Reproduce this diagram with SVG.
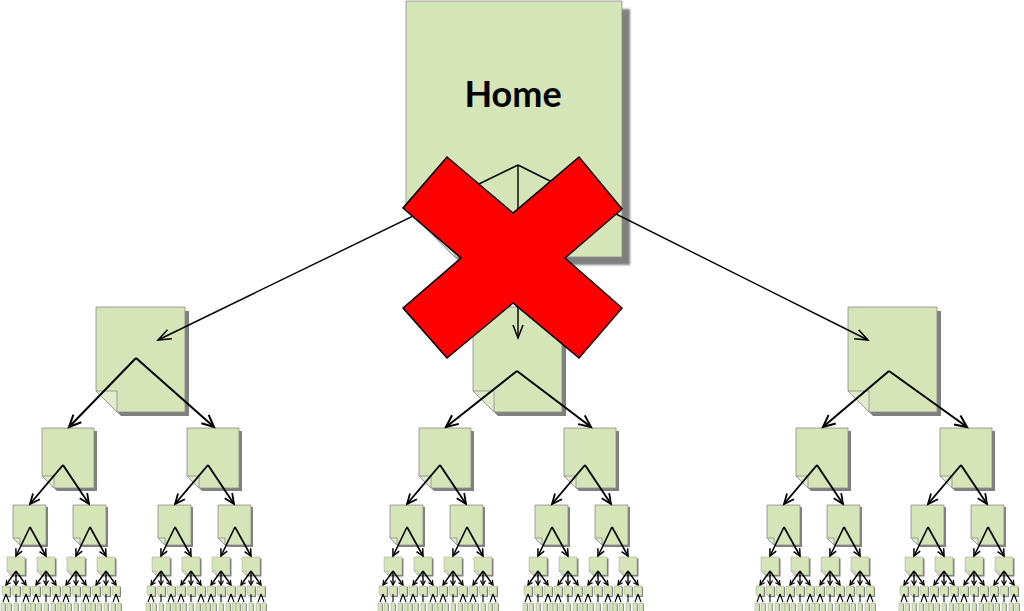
<svg xmlns="http://www.w3.org/2000/svg" xmlns:xlink="http://www.w3.org/1999/xlink" width="1024" height="611" viewBox="0 0 1024 611">
<style>
.body{fill:#d6e5b7;stroke:#8c8c8c;stroke-width:0.8}
.fold{fill:#e1ecca;stroke:#8c8c8c;stroke-width:0.8}
.bs{stroke-width:0.4}
.shadow{fill:#808080}
.c0{fill:none;stroke:#000;stroke-width:1.4;marker-end:url(#a0)}
.c1{fill:none;stroke:#000;stroke-width:2;marker-end:url(#a1)}
.c2{fill:none;stroke:#000;stroke-width:1.9;marker-end:url(#a2)}
.c3{fill:none;stroke:#000;stroke-width:1.6;marker-end:url(#a3)}
.c4{fill:none;stroke:#000;stroke-width:1.4;marker-end:url(#a4)}
.c5{fill:none;stroke:#000;stroke-width:1.1}
.x{fill:#ff0000;stroke:#000;stroke-width:1.5;stroke-linejoin:miter}
.label{font-family:Lato,"Liberation Sans",sans-serif;font-weight:700;font-size:36px;fill:#000}
</style>
<defs>
<filter id="blur" x="-10%" y="-10%" width="120%" height="120%"><feGaussianBlur stdDeviation="1.2"/></filter>
<marker id="a0" markerUnits="userSpaceOnUse" viewBox="0 0 13 10" markerWidth="13" markerHeight="10" refX="13" refY="5" orient="auto" overflow="visible"><path d="M0,0L13,5L0,10" fill="none" stroke="#000" stroke-width="1.5"/></marker>
<marker id="a1" markerUnits="userSpaceOnUse" viewBox="0 0 12 11" markerWidth="12" markerHeight="11" refX="12" refY="5.5" orient="auto" overflow="visible"><path d="M0,0L12,5.5L0,11" fill="none" stroke="#000" stroke-width="2"/></marker>
<marker id="a2" markerUnits="userSpaceOnUse" viewBox="0 0 10 9" markerWidth="10" markerHeight="9" refX="10" refY="4.5" orient="auto" overflow="visible"><path d="M0,0L10,4.5L0,9" fill="none" stroke="#000" stroke-width="1.8"/></marker>
<marker id="a3" markerUnits="userSpaceOnUse" viewBox="0 0 7 7" markerWidth="7" markerHeight="7" refX="7" refY="3.5" orient="auto" overflow="visible"><path d="M0,0L7,3.5L0,7" fill="none" stroke="#000" stroke-width="1.5"/></marker>
<marker id="a4" markerUnits="userSpaceOnUse" viewBox="0 0 4.5 5" markerWidth="4.5" markerHeight="5" refX="4.5" refY="2.5" orient="auto" overflow="visible"><path d="M0,0L4.5,2.5L0,5" fill="none" stroke="#000" stroke-width="1.2"/></marker>
<g id="s1"><path class="shadow" d="M4,4H93V109H25L4,88Z"/><path class="body" d="M0,0H89V105H21L0,84Z"/><path class="fold" d="M0,84H21V105Z"/></g>
<g id="s2"><path class="shadow" d="M3,3H55V63H15L3,51Z"/><path class="body" d="M0,0H52V60H12L0,48Z"/><path class="fold" d="M0,48H12V60Z"/></g>
<g id="s3"><path class="shadow" d="M2,2H35V42H9L2,35Z"/><path class="body" d="M0,0H33V40H7L0,33Z"/><path class="fold" d="M0,33H7V40Z"/></g>
<g id="s4"><path class="shadow" d="M1.5,1.5H19.5V19.5H5.5L1.5,15.5Z"/><path class="body bs" d="M0,0H18V18H4L0,14Z"/><path class="fold bs" d="M0,14H4V18Z"/></g>
<g id="s5"><path class="shadow" d="M1,1H9V11H3L1,9Z"/><path class="body bs" d="M0,0H8V10H2L0,8Z"/></g>
<g id="s6"><rect class="shadow" x="0.8" y="0.8" width="4" height="9"/><rect class="body bs" width="4" height="9"/></g>
<g id="subconn">
<path class="c2" d="M21,465L-12,504"/><path class="c2" d="M21,465L47,504"/>
<path class="c3" d="M-12,527L-26,556"/><path class="c3" d="M-12,527L4,556"/>
<path class="c3" d="M48,527L34,556"/><path class="c3" d="M48,527L64,556"/>
<path class="c4" d="M-26,571L-36,585"/><path class="c4" d="M-26,571L-26,585"/><path class="c4" d="M-26,571L-16,585"/>
<path class="c4" d="M4,571L-6,585"/><path class="c4" d="M4,571L4,585"/><path class="c4" d="M4,571L14,585"/>
<path class="c4" d="M34,571L24,585"/><path class="c4" d="M34,571L34,585"/><path class="c4" d="M34,571L44,585"/>
<path class="c4" d="M64,571L54,585"/><path class="c4" d="M64,571L64,585"/><path class="c4" d="M64,571L74,585"/>
<path class="c5" d="M-36,594L-39,602M-36,594L-33,602"/><path class="c5" d="M-26,594V602"/><path class="c5" d="M-16,594L-19,602M-16,594L-13,602"/>
<path class="c5" d="M-6,594L-9,602M-6,594L-3,602"/><path class="c5" d="M4,594V602"/><path class="c5" d="M14,594L11,602M14,594L17,602"/>
<path class="c5" d="M24,594L21,602M24,594L27,602"/><path class="c5" d="M34,594V602"/><path class="c5" d="M44,594L41,602M44,594L47,602"/>
<path class="c5" d="M54,594L51,602M54,594L57,602"/><path class="c5" d="M64,594V602"/><path class="c5" d="M74,594L71,602M74,594L77,602"/>
</g>
</defs>
<rect width="1024" height="611" fill="#ffffff"/>
<g id="nodes">
<g id="home">
<path class="shadow" filter="url(#blur)" d="M414,9H630V265H463L414,216Z"/>
<path class="body" d="M406,1H622V257H455L406,208Z"/>
<path class="fold" d="M406,208H455V257Z"/>
<text class="label" x="513" y="107" text-anchor="middle">Home</text>
</g>
<g id="n1-left"><use href="#s1" x="96" y="307"/></g>
<g id="n1-center"><use href="#s1" x="473" y="307"/></g>
<g id="n1-right"><use href="#s1" x="848" y="307"/></g>
<g id="t1" transform="translate(42,0)">
<g id="t1-n2"><use href="#s2" x="0" y="428"/></g>
<g id="t1-n3a"><use href="#s3" x="-29" y="505"/></g><g id="t1-n3b"><use href="#s3" x="31" y="505"/></g>
<g id="t1-n4a"><use href="#s4" x="-35" y="557"/></g><g id="t1-n4b"><use href="#s4" x="-5" y="557"/></g><g id="t1-n4c"><use href="#s4" x="25" y="557"/></g><g id="t1-n4d"><use href="#s4" x="55" y="557"/></g>
<g id="t1-n5a"><use href="#s5" x="-40" y="586"/></g><g id="t1-n5b"><use href="#s5" x="-30" y="586"/></g><g id="t1-n5c"><use href="#s5" x="-20" y="586"/></g><g id="t1-n5d"><use href="#s5" x="-10" y="586"/></g><g id="t1-n5e"><use href="#s5" x="0" y="586"/></g><g id="t1-n5f"><use href="#s5" x="10" y="586"/></g><g id="t1-n5g"><use href="#s5" x="20" y="586"/></g><g id="t1-n5h"><use href="#s5" x="30" y="586"/></g><g id="t1-n5i"><use href="#s5" x="40" y="586"/></g><g id="t1-n5j"><use href="#s5" x="50" y="586"/></g><g id="t1-n5k"><use href="#s5" x="60" y="586"/></g><g id="t1-n5l"><use href="#s5" x="70" y="586"/></g>
<g id="t1-n6a"><use href="#s6" x="-41" y="603"/></g><g id="t1-n6b"><use href="#s6" x="-35" y="603"/></g><g id="t1-n6c"><use href="#s6" x="-28" y="603"/></g><g id="t1-n6d"><use href="#s6" x="-21" y="603"/></g><g id="t1-n6e"><use href="#s6" x="-15" y="603"/></g>
<g id="t1-n6f"><use href="#s6" x="-11" y="603"/></g><g id="t1-n6g"><use href="#s6" x="-5" y="603"/></g><g id="t1-n6h"><use href="#s6" x="2" y="603"/></g><g id="t1-n6i"><use href="#s6" x="9" y="603"/></g><g id="t1-n6j"><use href="#s6" x="15" y="603"/></g>
<g id="t1-n6k"><use href="#s6" x="19" y="603"/></g><g id="t1-n6l"><use href="#s6" x="25" y="603"/></g><g id="t1-n6m"><use href="#s6" x="32" y="603"/></g><g id="t1-n6n"><use href="#s6" x="39" y="603"/></g><g id="t1-n6o"><use href="#s6" x="45" y="603"/></g>
<g id="t1-n6p"><use href="#s6" x="49" y="603"/></g><g id="t1-n6q"><use href="#s6" x="55" y="603"/></g><g id="t1-n6r"><use href="#s6" x="62" y="603"/></g><g id="t1-n6s"><use href="#s6" x="69" y="603"/></g><g id="t1-n6t"><use href="#s6" x="75" y="603"/></g>
</g>
<g id="t2" transform="translate(187,0)">
<g id="t2-n2"><use href="#s2" x="0" y="428"/></g>
<g id="t2-n3a"><use href="#s3" x="-29" y="505"/></g><g id="t2-n3b"><use href="#s3" x="31" y="505"/></g>
<g id="t2-n4a"><use href="#s4" x="-35" y="557"/></g><g id="t2-n4b"><use href="#s4" x="-5" y="557"/></g><g id="t2-n4c"><use href="#s4" x="25" y="557"/></g><g id="t2-n4d"><use href="#s4" x="55" y="557"/></g>
<g id="t2-n5a"><use href="#s5" x="-40" y="586"/></g><g id="t2-n5b"><use href="#s5" x="-30" y="586"/></g><g id="t2-n5c"><use href="#s5" x="-20" y="586"/></g><g id="t2-n5d"><use href="#s5" x="-10" y="586"/></g><g id="t2-n5e"><use href="#s5" x="0" y="586"/></g><g id="t2-n5f"><use href="#s5" x="10" y="586"/></g><g id="t2-n5g"><use href="#s5" x="20" y="586"/></g><g id="t2-n5h"><use href="#s5" x="30" y="586"/></g><g id="t2-n5i"><use href="#s5" x="40" y="586"/></g><g id="t2-n5j"><use href="#s5" x="50" y="586"/></g><g id="t2-n5k"><use href="#s5" x="60" y="586"/></g><g id="t2-n5l"><use href="#s5" x="70" y="586"/></g>
<g id="t2-n6a"><use href="#s6" x="-41" y="603"/></g><g id="t2-n6b"><use href="#s6" x="-35" y="603"/></g><g id="t2-n6c"><use href="#s6" x="-28" y="603"/></g><g id="t2-n6d"><use href="#s6" x="-21" y="603"/></g><g id="t2-n6e"><use href="#s6" x="-15" y="603"/></g>
<g id="t2-n6f"><use href="#s6" x="-11" y="603"/></g><g id="t2-n6g"><use href="#s6" x="-5" y="603"/></g><g id="t2-n6h"><use href="#s6" x="2" y="603"/></g><g id="t2-n6i"><use href="#s6" x="9" y="603"/></g><g id="t2-n6j"><use href="#s6" x="15" y="603"/></g>
<g id="t2-n6k"><use href="#s6" x="19" y="603"/></g><g id="t2-n6l"><use href="#s6" x="25" y="603"/></g><g id="t2-n6m"><use href="#s6" x="32" y="603"/></g><g id="t2-n6n"><use href="#s6" x="39" y="603"/></g><g id="t2-n6o"><use href="#s6" x="45" y="603"/></g>
<g id="t2-n6p"><use href="#s6" x="49" y="603"/></g><g id="t2-n6q"><use href="#s6" x="55" y="603"/></g><g id="t2-n6r"><use href="#s6" x="62" y="603"/></g><g id="t2-n6s"><use href="#s6" x="69" y="603"/></g><g id="t2-n6t"><use href="#s6" x="75" y="603"/></g>
</g>
<g id="t3" transform="translate(419,0)">
<g id="t3-n2"><use href="#s2" x="0" y="428"/></g>
<g id="t3-n3a"><use href="#s3" x="-29" y="505"/></g><g id="t3-n3b"><use href="#s3" x="31" y="505"/></g>
<g id="t3-n4a"><use href="#s4" x="-35" y="557"/></g><g id="t3-n4b"><use href="#s4" x="-5" y="557"/></g><g id="t3-n4c"><use href="#s4" x="25" y="557"/></g><g id="t3-n4d"><use href="#s4" x="55" y="557"/></g>
<g id="t3-n5a"><use href="#s5" x="-40" y="586"/></g><g id="t3-n5b"><use href="#s5" x="-30" y="586"/></g><g id="t3-n5c"><use href="#s5" x="-20" y="586"/></g><g id="t3-n5d"><use href="#s5" x="-10" y="586"/></g><g id="t3-n5e"><use href="#s5" x="0" y="586"/></g><g id="t3-n5f"><use href="#s5" x="10" y="586"/></g><g id="t3-n5g"><use href="#s5" x="20" y="586"/></g><g id="t3-n5h"><use href="#s5" x="30" y="586"/></g><g id="t3-n5i"><use href="#s5" x="40" y="586"/></g><g id="t3-n5j"><use href="#s5" x="50" y="586"/></g><g id="t3-n5k"><use href="#s5" x="60" y="586"/></g><g id="t3-n5l"><use href="#s5" x="70" y="586"/></g>
<g id="t3-n6a"><use href="#s6" x="-41" y="603"/></g><g id="t3-n6b"><use href="#s6" x="-35" y="603"/></g><g id="t3-n6c"><use href="#s6" x="-28" y="603"/></g><g id="t3-n6d"><use href="#s6" x="-21" y="603"/></g><g id="t3-n6e"><use href="#s6" x="-15" y="603"/></g>
<g id="t3-n6f"><use href="#s6" x="-11" y="603"/></g><g id="t3-n6g"><use href="#s6" x="-5" y="603"/></g><g id="t3-n6h"><use href="#s6" x="2" y="603"/></g><g id="t3-n6i"><use href="#s6" x="9" y="603"/></g><g id="t3-n6j"><use href="#s6" x="15" y="603"/></g>
<g id="t3-n6k"><use href="#s6" x="19" y="603"/></g><g id="t3-n6l"><use href="#s6" x="25" y="603"/></g><g id="t3-n6m"><use href="#s6" x="32" y="603"/></g><g id="t3-n6n"><use href="#s6" x="39" y="603"/></g><g id="t3-n6o"><use href="#s6" x="45" y="603"/></g>
<g id="t3-n6p"><use href="#s6" x="49" y="603"/></g><g id="t3-n6q"><use href="#s6" x="55" y="603"/></g><g id="t3-n6r"><use href="#s6" x="62" y="603"/></g><g id="t3-n6s"><use href="#s6" x="69" y="603"/></g><g id="t3-n6t"><use href="#s6" x="75" y="603"/></g>
</g>
<g id="t4" transform="translate(564,0)">
<g id="t4-n2"><use href="#s2" x="0" y="428"/></g>
<g id="t4-n3a"><use href="#s3" x="-29" y="505"/></g><g id="t4-n3b"><use href="#s3" x="31" y="505"/></g>
<g id="t4-n4a"><use href="#s4" x="-35" y="557"/></g><g id="t4-n4b"><use href="#s4" x="-5" y="557"/></g><g id="t4-n4c"><use href="#s4" x="25" y="557"/></g><g id="t4-n4d"><use href="#s4" x="55" y="557"/></g>
<g id="t4-n5a"><use href="#s5" x="-40" y="586"/></g><g id="t4-n5b"><use href="#s5" x="-30" y="586"/></g><g id="t4-n5c"><use href="#s5" x="-20" y="586"/></g><g id="t4-n5d"><use href="#s5" x="-10" y="586"/></g><g id="t4-n5e"><use href="#s5" x="0" y="586"/></g><g id="t4-n5f"><use href="#s5" x="10" y="586"/></g><g id="t4-n5g"><use href="#s5" x="20" y="586"/></g><g id="t4-n5h"><use href="#s5" x="30" y="586"/></g><g id="t4-n5i"><use href="#s5" x="40" y="586"/></g><g id="t4-n5j"><use href="#s5" x="50" y="586"/></g><g id="t4-n5k"><use href="#s5" x="60" y="586"/></g><g id="t4-n5l"><use href="#s5" x="70" y="586"/></g>
<g id="t4-n6a"><use href="#s6" x="-41" y="603"/></g><g id="t4-n6b"><use href="#s6" x="-35" y="603"/></g><g id="t4-n6c"><use href="#s6" x="-28" y="603"/></g><g id="t4-n6d"><use href="#s6" x="-21" y="603"/></g><g id="t4-n6e"><use href="#s6" x="-15" y="603"/></g>
<g id="t4-n6f"><use href="#s6" x="-11" y="603"/></g><g id="t4-n6g"><use href="#s6" x="-5" y="603"/></g><g id="t4-n6h"><use href="#s6" x="2" y="603"/></g><g id="t4-n6i"><use href="#s6" x="9" y="603"/></g><g id="t4-n6j"><use href="#s6" x="15" y="603"/></g>
<g id="t4-n6k"><use href="#s6" x="19" y="603"/></g><g id="t4-n6l"><use href="#s6" x="25" y="603"/></g><g id="t4-n6m"><use href="#s6" x="32" y="603"/></g><g id="t4-n6n"><use href="#s6" x="39" y="603"/></g><g id="t4-n6o"><use href="#s6" x="45" y="603"/></g>
<g id="t4-n6p"><use href="#s6" x="49" y="603"/></g><g id="t4-n6q"><use href="#s6" x="55" y="603"/></g><g id="t4-n6r"><use href="#s6" x="62" y="603"/></g><g id="t4-n6s"><use href="#s6" x="69" y="603"/></g><g id="t4-n6t"><use href="#s6" x="75" y="603"/></g>
</g>
<g id="t5" transform="translate(796,0)">
<g id="t5-n2"><use href="#s2" x="0" y="428"/></g>
<g id="t5-n3a"><use href="#s3" x="-29" y="505"/></g><g id="t5-n3b"><use href="#s3" x="31" y="505"/></g>
<g id="t5-n4a"><use href="#s4" x="-35" y="557"/></g><g id="t5-n4b"><use href="#s4" x="-5" y="557"/></g><g id="t5-n4c"><use href="#s4" x="25" y="557"/></g><g id="t5-n4d"><use href="#s4" x="55" y="557"/></g>
<g id="t5-n5a"><use href="#s5" x="-40" y="586"/></g><g id="t5-n5b"><use href="#s5" x="-30" y="586"/></g><g id="t5-n5c"><use href="#s5" x="-20" y="586"/></g><g id="t5-n5d"><use href="#s5" x="-10" y="586"/></g><g id="t5-n5e"><use href="#s5" x="0" y="586"/></g><g id="t5-n5f"><use href="#s5" x="10" y="586"/></g><g id="t5-n5g"><use href="#s5" x="20" y="586"/></g><g id="t5-n5h"><use href="#s5" x="30" y="586"/></g><g id="t5-n5i"><use href="#s5" x="40" y="586"/></g><g id="t5-n5j"><use href="#s5" x="50" y="586"/></g><g id="t5-n5k"><use href="#s5" x="60" y="586"/></g><g id="t5-n5l"><use href="#s5" x="70" y="586"/></g>
<g id="t5-n6a"><use href="#s6" x="-41" y="603"/></g><g id="t5-n6b"><use href="#s6" x="-35" y="603"/></g><g id="t5-n6c"><use href="#s6" x="-28" y="603"/></g><g id="t5-n6d"><use href="#s6" x="-21" y="603"/></g><g id="t5-n6e"><use href="#s6" x="-15" y="603"/></g>
<g id="t5-n6f"><use href="#s6" x="-11" y="603"/></g><g id="t5-n6g"><use href="#s6" x="-5" y="603"/></g><g id="t5-n6h"><use href="#s6" x="2" y="603"/></g><g id="t5-n6i"><use href="#s6" x="9" y="603"/></g><g id="t5-n6j"><use href="#s6" x="15" y="603"/></g>
<g id="t5-n6k"><use href="#s6" x="19" y="603"/></g><g id="t5-n6l"><use href="#s6" x="25" y="603"/></g><g id="t5-n6m"><use href="#s6" x="32" y="603"/></g><g id="t5-n6n"><use href="#s6" x="39" y="603"/></g><g id="t5-n6o"><use href="#s6" x="45" y="603"/></g>
<g id="t5-n6p"><use href="#s6" x="49" y="603"/></g><g id="t5-n6q"><use href="#s6" x="55" y="603"/></g><g id="t5-n6r"><use href="#s6" x="62" y="603"/></g><g id="t5-n6s"><use href="#s6" x="69" y="603"/></g><g id="t5-n6t"><use href="#s6" x="75" y="603"/></g>
</g>
<g id="t6" transform="translate(940,0)">
<g id="t6-n2"><use href="#s2" x="0" y="428"/></g>
<g id="t6-n3a"><use href="#s3" x="-29" y="505"/></g><g id="t6-n3b"><use href="#s3" x="31" y="505"/></g>
<g id="t6-n4a"><use href="#s4" x="-35" y="557"/></g><g id="t6-n4b"><use href="#s4" x="-5" y="557"/></g><g id="t6-n4c"><use href="#s4" x="25" y="557"/></g><g id="t6-n4d"><use href="#s4" x="55" y="557"/></g>
<g id="t6-n5a"><use href="#s5" x="-40" y="586"/></g><g id="t6-n5b"><use href="#s5" x="-30" y="586"/></g><g id="t6-n5c"><use href="#s5" x="-20" y="586"/></g><g id="t6-n5d"><use href="#s5" x="-10" y="586"/></g><g id="t6-n5e"><use href="#s5" x="0" y="586"/></g><g id="t6-n5f"><use href="#s5" x="10" y="586"/></g><g id="t6-n5g"><use href="#s5" x="20" y="586"/></g><g id="t6-n5h"><use href="#s5" x="30" y="586"/></g><g id="t6-n5i"><use href="#s5" x="40" y="586"/></g><g id="t6-n5j"><use href="#s5" x="50" y="586"/></g><g id="t6-n5k"><use href="#s5" x="60" y="586"/></g><g id="t6-n5l"><use href="#s5" x="70" y="586"/></g>
<g id="t6-n6a"><use href="#s6" x="-41" y="603"/></g><g id="t6-n6b"><use href="#s6" x="-35" y="603"/></g><g id="t6-n6c"><use href="#s6" x="-28" y="603"/></g><g id="t6-n6d"><use href="#s6" x="-21" y="603"/></g><g id="t6-n6e"><use href="#s6" x="-15" y="603"/></g>
<g id="t6-n6f"><use href="#s6" x="-11" y="603"/></g><g id="t6-n6g"><use href="#s6" x="-5" y="603"/></g><g id="t6-n6h"><use href="#s6" x="2" y="603"/></g><g id="t6-n6i"><use href="#s6" x="9" y="603"/></g><g id="t6-n6j"><use href="#s6" x="15" y="603"/></g>
<g id="t6-n6k"><use href="#s6" x="19" y="603"/></g><g id="t6-n6l"><use href="#s6" x="25" y="603"/></g><g id="t6-n6m"><use href="#s6" x="32" y="603"/></g><g id="t6-n6n"><use href="#s6" x="39" y="603"/></g><g id="t6-n6o"><use href="#s6" x="45" y="603"/></g>
<g id="t6-n6p"><use href="#s6" x="49" y="603"/></g><g id="t6-n6q"><use href="#s6" x="55" y="603"/></g><g id="t6-n6r"><use href="#s6" x="62" y="603"/></g><g id="t6-n6s"><use href="#s6" x="69" y="603"/></g><g id="t6-n6t"><use href="#s6" x="75" y="603"/></g>
</g>
</g>
<g id="connectors">
<path class="c0" d="M518,165L158,340"/>
<path class="c0" d="M518,165L518,338"/>
<path class="c0" d="M518,165L868,340"/>
<path class="c1" d="M136,358L69,427"/>
<path class="c1" d="M136,358L214,427"/>
<path class="c1" d="M517,371L446,427"/>
<path class="c1" d="M517,371L591,427"/>
<path class="c1" d="M889,371L823,427"/>
<path class="c1" d="M889,371L967,427"/>
<use href="#subconn" x="42"/>
<use href="#subconn" x="187"/>
<use href="#subconn" x="419"/>
<use href="#subconn" x="564"/>
<use href="#subconn" x="796"/>
<use href="#subconn" x="940"/>
</g>
<g id="cross">
<polygon class="x" points="447,157 513,213 579,157 622,209 565,258 622,308 579,358 513,303 447,358 403,308 461,258 403,208"/>
</g>
</svg>
